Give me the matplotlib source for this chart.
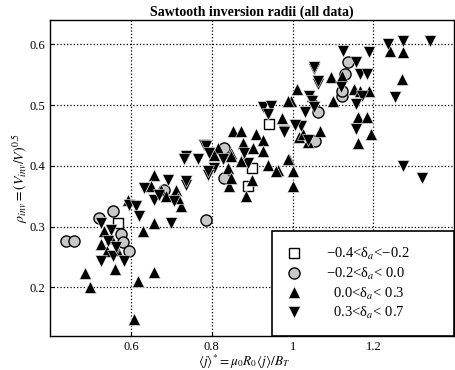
import matplotlib
matplotlib.use("Agg")
import matplotlib.pyplot as plt
from matplotlib.ticker import FormatStrFormatter

plt.rcParams["font.family"] = ["Liberation Serif", "DejaVu Serif"]
plt.rcParams["mathtext.fontset"] = "stix"

# -0.4 < delta_a < -0.2
sq_x = [0.568, 0.889, 0.900, 0.941]
sq_y = [0.306, 0.367, 0.396, 0.469]

# -0.2 < delta_a < 0.0
ci_x = [0.440, 0.460, 0.521, 0.555, 0.575, 0.580, 0.595, 0.681, 0.785, 0.830,
        0.830, 1.055, 1.064, 1.123, 1.123, 1.131, 1.136]
ci_y = [0.277, 0.277, 0.314, 0.326, 0.287, 0.274, 0.260, 0.360, 0.311, 0.380,
        0.429, 0.441, 0.489, 0.515, 0.523, 0.551, 0.571]

# 0.0 < delta_a < 0.3
up_x = [0.607, 0.486, 0.499, 0.617, 0.657, 0.560, 0.630, 0.657, 0.723, 0.593,
        0.533, 0.526, 0.550, 0.657, 0.649, 0.674, 0.711, 0.686, 0.716, 0.815,
        0.847, 0.842, 0.852, 0.872, 0.909, 0.926, 0.877, 0.901, 0.926, 0.805,
        0.847, 0.872, 0.938, 0.963, 0.990, 1.000, 0.840, 0.847, 1.000, 0.900,
        0.884, 0.958, 0.975, 1.012, 0.995, 1.015, 1.094, 1.123, 1.151, 1.168,
        1.188, 1.099, 1.049, 0.988, 1.161, 1.185, 1.193, 1.163, 1.069, 1.025,
        1.037, 0.988, 1.242, 1.274, 1.272, 0.540, 0.565]
up_y = [0.148, 0.223, 0.200, 0.210, 0.225, 0.230, 0.293, 0.306, 0.334, 0.344,
        0.293, 0.271, 0.282, 0.385, 0.367, 0.360, 0.360, 0.350, 0.347, 0.429,
        0.421, 0.367, 0.458, 0.458, 0.453, 0.442, 0.437, 0.429, 0.425, 0.417,
        0.416, 0.408, 0.401, 0.393, 0.412, 0.391, 0.396, 0.380, 0.367, 0.376,
        0.350, 0.391, 0.478, 0.527, 0.507, 0.448, 0.546, 0.548, 0.527, 0.523,
        0.523, 0.507, 0.515, 0.507, 0.481, 0.481, 0.453, 0.437, 0.458, 0.453,
        0.440, 0.412, 0.589, 0.587, 0.543, 0.260, 0.262]

# 0.3 < delta_a < 0.7
dn_x = [1.052, 1.062, 1.040, 0.926, 0.946, 0.938, 0.978, 1.020, 1.037, 0.780,
        0.736, 0.765, 0.805, 0.790, 0.736, 0.889, 0.785, 0.793, 0.731, 0.790,
        0.827, 0.879, 0.691, 0.736, 0.632, 0.657, 0.669, 0.706, 0.595, 0.612,
        0.620, 0.699, 0.526, 0.550, 0.543, 0.526, 0.555, 0.583, 0.563, 1.126,
        1.188, 1.237, 1.274, 1.340, 1.254, 1.052, 1.156, 1.168, 1.185, 1.064,
        1.119, 1.173, 1.049, 1.032, 1.052, 1.156, 1.156, 1.007, 0.978, 1.274,
        1.321]
dn_y = [0.559, 0.535, 0.515, 0.497, 0.499, 0.486, 0.458, 0.465, 0.442, 0.434,
        0.416, 0.412, 0.396, 0.385, 0.368, 0.404, 0.432, 0.421, 0.412, 0.391,
        0.412, 0.421, 0.376, 0.375, 0.363, 0.344, 0.352, 0.342, 0.336, 0.334,
        0.318, 0.306, 0.306, 0.295, 0.277, 0.244, 0.252, 0.244, 0.266, 0.589,
        0.587, 0.600, 0.605, 0.605, 0.514, 0.562, 0.571, 0.551, 0.551, 0.540,
        0.530, 0.515, 0.507, 0.489, 0.497, 0.502, 0.461, 0.467, 0.456, 0.399,
        0.380]

labels = ["\u22120.4<\u03b4$_a$<\u22120.2", "\u22120.2<\u03b4$_a$< 0.0",
          "  0.0<\u03b4$_a$< 0.3", "  0.3<\u03b4$_a$< 0.7"]

fig = plt.figure(figsize=(4.56, 3.70), dpi=100)
ax = fig.add_axes([0.11, 0.092, 0.886, 0.854])

ms = 8
ax.plot(sq_x, sq_y, "s", ms=6.5, mfc="white", mec="black", mew=1.0, label=labels[0], zorder=3)
ax.plot(ci_x, ci_y, "o", ms=ms, mfc="#c8c8c8", mec="black", mew=1.0, label=labels[1], zorder=3)
ax.plot(up_x, up_y, "^", ms=ms, mfc="black", mec="white", mew=0.4, label=labels[2], zorder=3)
ax.plot(dn_x, dn_y, "v", ms=ms, mfc="black", mec="white", mew=0.4, label=labels[3], zorder=3)

ax.set_xlim(0.40, 1.40)
ax.set_ylim(0.12, 0.64)
ax.set_xticks([0.6, 0.8, 1.0, 1.2])
ax.set_yticks([0.2, 0.3, 0.4, 0.5, 0.6])
ax.xaxis.set_major_formatter(FormatStrFormatter("%g"))
ax.yaxis.set_major_formatter(FormatStrFormatter("%g"))
ax.tick_params(direction="in", labelsize=9, length=3)
ax.grid(True, color="black", linestyle=":", linewidth=0.9, zorder=1)
for s in ax.spines.values():
    s.set_linewidth(1.0)

ax.set_title("Sawtooth inversion radii (all data)", fontsize=10, fontweight="bold", pad=3)
ax.set_xlabel(r"$\langle j\rangle^{*} = \mu_0 R_0 \langle j\rangle / B_T$", fontsize=9.5)
ax.xaxis.set_label_coords(0.48, -0.053)
ax.set_ylabel(r"$\rho_{inv} = (V_{inv}/V)^{0.5}$", fontsize=10, labelpad=0)

leg = ax.legend(loc="lower left", bbox_to_anchor=(0.55, 0.0, 0.45, 0.3), mode="expand",
                fontsize=10.5, frameon=True, fancybox=False,
                borderaxespad=0, handletextpad=1.7, labelspacing=0.25,
                borderpad=1.0, handlelength=1.0)
leg.get_frame().set_edgecolor("black")
leg.get_frame().set_linewidth(1.2)
leg.get_frame().set_alpha(1)

fig.savefig("out.png", dpi=100)
